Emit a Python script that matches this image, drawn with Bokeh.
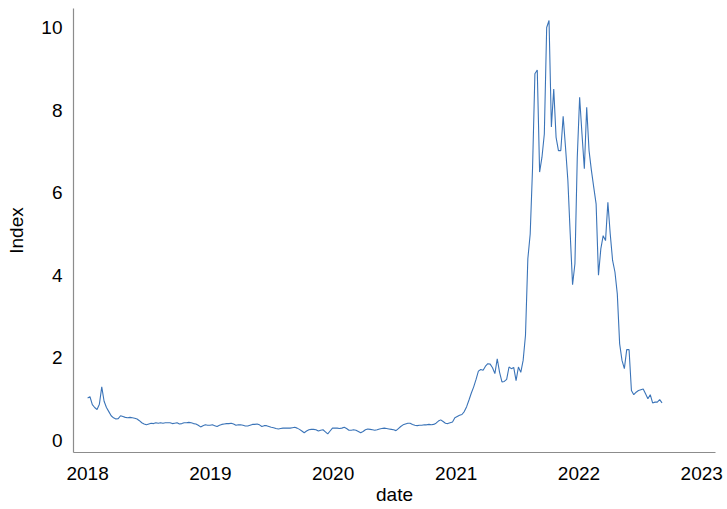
import pandas as pd
from bokeh.plotting import figure
from bokeh.models import ColumnDataSource, FixedTicker, DatetimeTickFormatter, Range1d
from bokeh.embed import file_html
from bokeh.resources import INLINE

# Weekly index values, first week starting 2018-01-01
start_date = "2018-01-01"
index_values = [
    # 2018
    1.03, 1.06, 0.87, 0.80, 0.75, 0.88, 1.30, 0.95, 0.80, 0.70,
    0.60, 0.55, 0.52, 0.53, 0.60, 0.58, 0.56, 0.55, 0.56, 0.55,
    0.54, 0.52, 0.48, 0.43, 0.40, 0.38, 0.40, 0.42, 0.41, 0.43,
    0.42, 0.43, 0.42, 0.43, 0.43, 0.43, 0.41, 0.42, 0.43, 0.40,
    0.41, 0.43, 0.43, 0.44, 0.43, 0.41, 0.40, 0.37, 0.33, 0.36,
    0.38, 0.37, 0.37,
    # 2019
    0.38, 0.36, 0.34, 0.37, 0.39, 0.40, 0.41, 0.41, 0.42, 0.40,
    0.37, 0.38, 0.38, 0.37, 0.35, 0.35, 0.37, 0.39, 0.39, 0.40,
    0.38, 0.34, 0.36, 0.36, 0.34, 0.32, 0.31, 0.29, 0.28, 0.29,
    0.30, 0.30, 0.30, 0.30, 0.31, 0.32, 0.30, 0.27, 0.23, 0.19,
    0.23, 0.26, 0.27, 0.27, 0.26, 0.23, 0.25, 0.26, 0.21, 0.16,
    0.23, 0.30,
    # 2020
    0.30, 0.30, 0.29, 0.30, 0.32, 0.29, 0.25, 0.25, 0.26, 0.25,
    0.22, 0.19, 0.22, 0.26, 0.28, 0.27, 0.26, 0.25, 0.26, 0.28,
    0.29, 0.30, 0.29, 0.28, 0.27, 0.26, 0.24, 0.29, 0.34, 0.38,
    0.40, 0.42, 0.42, 0.39, 0.37, 0.36, 0.37, 0.37, 0.38, 0.38,
    0.39, 0.38, 0.39, 0.42, 0.47, 0.50, 0.46, 0.42, 0.41, 0.43,
    0.45, 0.55,
    # 2021
    0.58, 0.61, 0.63, 0.70, 0.82, 0.98, 1.15, 1.30, 1.48, 1.68,
    1.72, 1.70, 1.80, 1.86, 1.85, 1.76, 1.62, 1.98, 1.65, 1.42,
    1.43, 1.48, 1.78, 1.74, 1.77, 1.45, 1.78, 1.65, 1.94, 2.55,
    4.40, 5.00, 6.60, 8.88, 8.97, 6.50, 6.86, 7.42, 10.00, 10.17,
    7.59, 8.51, 7.34, 7.02, 7.02, 7.85, 7.10, 6.30, 5.00, 3.77,
    4.28, 6.86,
    # 2022
    8.31, 7.42, 6.58, 8.07, 7.02, 6.54, 6.13, 5.73, 4.00, 4.64,
    4.96, 4.84, 5.77, 5.00, 4.36, 4.08, 3.55, 2.34, 1.94, 1.74,
    2.20, 2.20, 1.21, 1.11, 1.17, 1.21, 1.23, 1.25, 1.13, 1.01,
    1.11, 0.91, 0.93, 0.93, 0.99, 0.91,
]
tick_years = [2018, 2019, 2020, 2021, 2022, 2023]
y_ticks = [0, 2, 4, 6, 8, 10]

dates = pd.date_range(start_date, periods=len(index_values), freq="7D")
source = ColumnDataSource(data=dict(date=dates, value=index_values))

x_start = pd.Timestamp("2017-11-20")
x_end = pd.Timestamp("2023-02-11")

p = figure(
    width=727, height=509,
    x_axis_type="datetime",
    x_range=Range1d(x_start, x_end),
    y_range=Range1d(-0.29, 10.46),
    output_backend="svg",
    toolbar_location=None,
    min_border_left=73, min_border_right=12,
    min_border_top=8, min_border_bottom=57,
)

p.line("date", "value", source=source, line_color="#3b74b8", line_width=1.1)

# axes styling: plain grey axis lines, no ticks, no grid
p.xgrid.visible = False
p.ygrid.visible = False
p.outline_line_color = None
p.background_fill_color = "white"
p.border_fill_color = "white"

tick_ms = [pd.Timestamp(f"{y}-01-01").value // 10**6 for y in tick_years]
p.xaxis.ticker = FixedTicker(ticks=tick_ms)
p.xaxis.formatter = DatetimeTickFormatter(years="%Y", months="%Y", days="%Y")
p.yaxis.ticker = FixedTicker(ticks=y_ticks)

for ax in (p.xaxis[0], p.yaxis[0]):
    ax.axis_line_color = "#8c8c8c"
    ax.axis_line_width = 1.2
    ax.major_tick_line_color = None
    ax.minor_tick_line_color = None
    ax.major_tick_out = 0
    ax.major_tick_in = 0
    ax.minor_tick_out = 0
    ax.major_label_text_font = "Liberation Sans"
    ax.major_label_text_font_size = "19px"
    ax.major_label_text_color = "black"
    ax.axis_label_text_font = "Liberation Sans"
    ax.axis_label_text_font_size = "19px"
    ax.axis_label_text_font_style = "normal"
    ax.axis_label_text_color = "black"

p.xaxis.axis_label = "date"
p.yaxis.axis_label = "Index"
p.xaxis.major_label_standoff = 14
p.yaxis.major_label_standoff = 11
p.xaxis.axis_label_standoff = 1
p.yaxis.axis_label_standoff = 11

open("out.html", "w").write(file_html(p, INLINE))
